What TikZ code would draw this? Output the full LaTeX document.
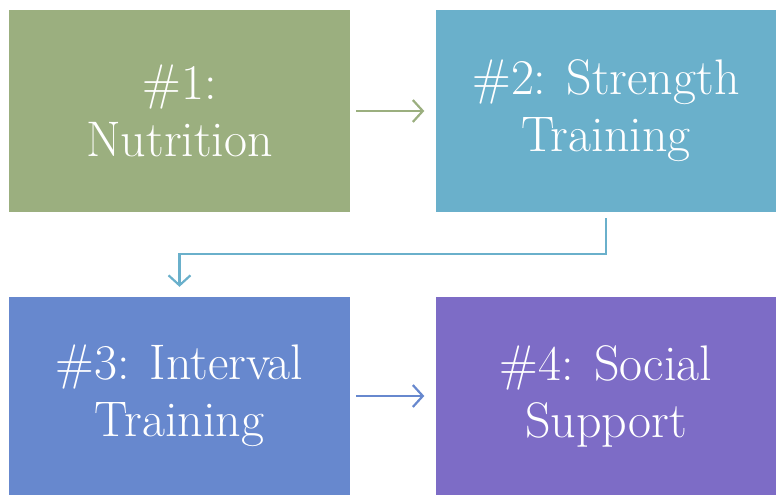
\documentclass[tikz,border=0pt]{standalone}
\usepackage{fontspec}
\usetikzlibrary{arrows.meta}

\definecolor{sagegreen}{HTML}{9BAF7F}
\definecolor{tealblue}{HTML}{6AB0CB}
\definecolor{cornblue}{HTML}{6788CE}
\definecolor{lavender}{HTML}{7D6CC6}

\begin{document}
\begin{tikzpicture}[
    x=1pt, y=1pt,
    stepbox/.style={rectangle, minimum width=341pt, minimum height=202pt, inner sep=0pt,
        text=white, align=center, font=\fontsize{50}{57}\selectfont},
    link/.style={line width=2.2pt, -{Straight Barb[length=10pt,width=22pt,line width=2.2pt]}}
]
\useasboundingbox (0,0) rectangle (776,-495);

% Boxes
\node[stepbox, fill=sagegreen] (nutrition) at (179.5,-111) {\#1:\\Nutrition};
\node[stepbox, fill=tealblue] (strength) at (606,-111) {\#2: Strength\\Training};
\node[stepbox, fill=cornblue, minimum height=198pt] (interval) at (179.5,-396) {\#3: Interval\\Training};
\node[stepbox, fill=lavender, minimum height=198pt] (social) at (606,-396) {\#4: Social\\Support};

% Arrows
\draw[link, sagegreen, shorten <=6pt, shorten >=11pt] (nutrition) -- (strength);
\draw[link, tealblue, shorten <=6pt, shorten >=10pt] (strength.south) -- ++(0,-42) -| (interval.north);
\draw[link, cornblue, shorten <=6pt, shorten >=11pt] (interval) -- (social);

\end{tikzpicture}
\end{document}
